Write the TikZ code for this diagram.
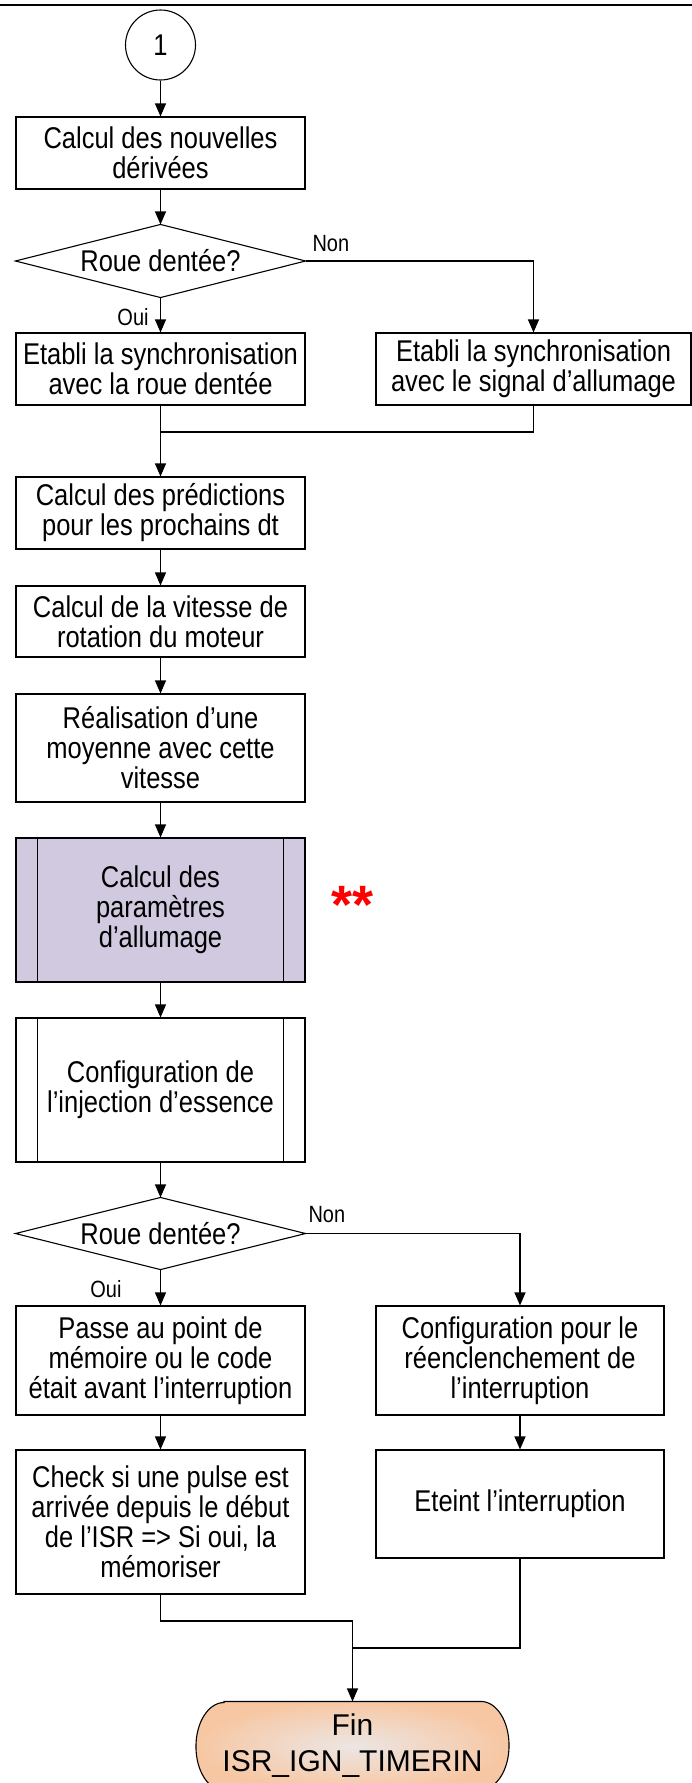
\documentclass[tikz,border=0pt]{standalone}
\usepackage{fontspec}
\setmainfont{Liberation Sans}
\newfontfamily\narrowsans{Liberation Sans}[FakeStretch=0.85]
\usetikzlibrary{arrows.meta}
\definecolor{lav}{RGB}{209,201,224}
\definecolor{peach}{RGB}{247,199,163}
\definecolor{peachin}{RGB}{236,230,228}
\begin{document}
\begin{tikzpicture}[x=1pt,y=-1pt,
  line width=1.1pt,
  txt/.style={font=\narrowsans\fontsize{30}{30}\selectfont, align=center, inner sep=0pt},
  box/.style={txt, draw, minimum width=289pt},
  dia/.style={txt, minimum width=289pt, minimum height=72pt},
  lbl/.style={font=\narrowsans\fontsize{23.5}{25}\selectfont, inner sep=0pt},
  arr/.style={-{Triangle[length=13pt,width=11pt]}}]
\useasboundingbox (0,0) rectangle (692,1783);
\draw (0,5) -- (692,5);
% start
\node[draw, circle, minimum size=70pt, inner sep=0pt,
      font=\narrowsans\fontsize{30}{30}\selectfont] (c1) at (160.5,45) {1};
\node[box, minimum height=72pt] (b1) at (160.5,153) {Calcul des nouvelles\\dérivées};
\node[dia] (d1) at (160.5,261) {Roue dentée?};
\draw (d1.north) -- (d1.east) -- (d1.south) -- (d1.west) -- cycle;
\node[lbl, anchor=west] (non1) at (312,244) {Non};
\node[lbl] (oui1) at (133,317) {Oui};
\node[box, minimum height=72pt] (b2l) at (160.5,369) {Etabli la synchronisation\\avec la roue dentée};
\node[box, minimum width=315pt, minimum height=72pt] (b2r) at (533.5,369) {Etabli la synchronisation\\avec le signal d’allumage};
\coordinate (m1) at (160.5,432);
\node[box, minimum height=72pt] (b3) at (160.5,513) {Calcul des prédictions\\pour les prochains dt};
\node[box, minimum height=71pt] (b4) at (160.5,621.5) {Calcul de la vitesse de\\rotation du moteur};
\node[box, minimum height=108pt] (b5) at (160.5,748) {Réalisation d’une\\moyenne avec cette\\vitesse};
\node[box, fill=lav, minimum height=144pt] (b6) at (160.5,910) {Calcul des\\paramètres\\d’allumage};
\draw ([xshift=22pt]b6.north west) -- ([xshift=22pt]b6.south west);
\draw ([xshift=-22pt]b6.north east) -- ([xshift=-22pt]b6.south east);
\node[text=red, font=\fontsize{54}{54}\selectfont\bfseries, inner sep=0pt] (ast) at (353,905) {**};
\node[box, minimum height=144pt] (b7) at (160.5,1090) {Configuration de\\l’injection d’essence};
\draw ([xshift=22pt]b7.north west) -- ([xshift=22pt]b7.south west);
\draw ([xshift=-22pt]b7.north east) -- ([xshift=-22pt]b7.south east);
\node[dia, minimum height=71pt] (d2) at (160.5,1233.5) {Roue dentée?};
\draw (d2.north) -- (d2.east) -- (d2.south) -- (d2.west) -- cycle;
\node[lbl, anchor=west] (non2) at (308,1215) {Non};
\node[lbl] (oui2) at (106,1289) {Oui};
\node[box, minimum height=109pt] (b8l) at (160.5,1360.5) {Passe au point de\\mémoire ou le code\\était avant l’interruption};
\node[box, minimum width=288pt, minimum height=109pt] (b8r) at (520,1360.5) {Configuration pour le\\réenclenchement de\\l’interruption};
\node[box, minimum height=144pt] (b9l) at (160.5,1522) {Check si une pulse est\\arrivée depuis le début\\de l’ISR => Si oui, la\\mémoriser};
\node[box, minimum width=288pt, minimum height=108pt] (b9r) at (520,1504) {Eteint l’interruption};
\coordinate (m2) at (352.5,1621);
\coordinate (m3) at (352.5,1648);
% terminator
\node[inner sep=0pt, minimum width=312pt, minimum height=88pt] (fin) at (352.5,1746) {};
\path[shade, inner color=peachin, outer color=peach, draw=black]
  ([xshift=28pt]fin.north west) -- ([xshift=-28pt]fin.north east)
  arc[start angle=90, end angle=-90, x radius=28pt, y radius=44pt]
  -- ([xshift=28pt]fin.south west)
  arc[start angle=270, end angle=90, x radius=28pt, y radius=44pt] -- cycle;
\node[font=\fontsize{30}{36}\selectfont, align=center, inner sep=0pt] (fintxt) at (fin.center) {Fin\\ISR\_IGN\_TIMERIN};
% connectors
\draw[arr] (c1) -- (b1);
\draw[arr] (b1) -- (d1.north);
\draw[arr] (d1.south) -- (b2l);
\draw[arr] (d1.east) -| (b2r.north);
\draw (b2l.south) -- (m1);
\draw (b2r.south) |- (m1);
\draw[arr] (m1) -- (b3);
\draw[arr] (b3) -- (b4);
\draw[arr] (b4) -- (b5);
\draw[arr] (b5) -- (b6);
\draw[arr] (b6) -- (b7);
\draw[arr] (b7) -- (d2.north);
\draw[arr] (d2.south) -- (b8l);
\draw[arr] (d2.east) -| (b8r.north);
\draw[arr] (b8l) -- (b9l);
\draw[arr] (b8r) -- (b9r);
\draw (b9l.south) |- (m2) -- (m3);
\draw (b9r.south) |- (m3);
\draw[arr] (m3) -- (fin.north);
\end{tikzpicture}
\end{document}
